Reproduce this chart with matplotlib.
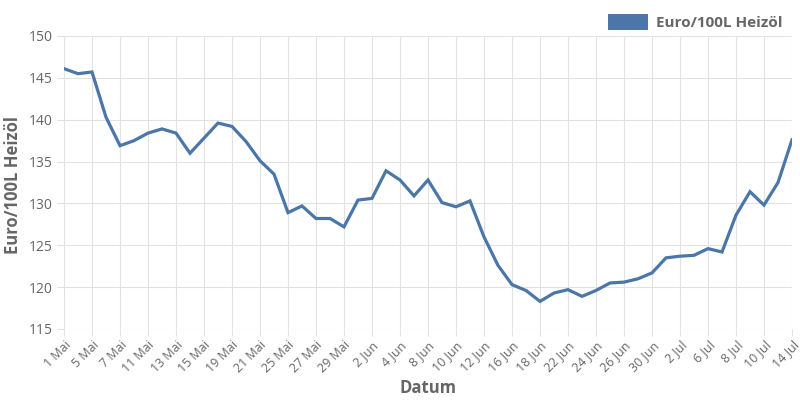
import matplotlib
matplotlib.use('Agg')
import matplotlib.pyplot as plt
from matplotlib.patches import Patch

plt.rcParams['font.family'] = ['Open Sans', 'DejaVu Sans']

# trading days, May - July
dates = ['1 Mai', '4 Mai', '5 Mai', '6 Mai', '7 Mai', '8 Mai', '11 Mai', '12 Mai',
         '13 Mai', '14 Mai', '15 Mai', '18 Mai', '19 Mai', '20 Mai', '21 Mai', '22 Mai',
         '25 Mai', '26 Mai', '27 Mai', '28 Mai', '29 Mai', '1 Jun', '2 Jun', '3 Jun',
         '4 Jun', '5 Jun', '8 Jun', '9 Jun', '10 Jun', '11 Jun', '12 Jun', '15 Jun',
         '16 Jun', '17 Jun', '18 Jun', '19 Jun', '22 Jun', '23 Jun', '24 Jun', '25 Jun',
         '26 Jun', '29 Jun', '30 Jun', '1 Jul', '2 Jul', '3 Jul', '6 Jul', '7 Jul',
         '8 Jul', '9 Jul', '10 Jul', '13 Jul', '14 Jul']
price = [146.1, 145.5, 145.7, 140.3, 136.9, 137.5, 138.4, 138.9,
         138.4, 136.0, 137.8, 139.6, 139.2, 137.4, 135.1, 133.5,
         128.9, 129.7, 128.2, 128.2, 127.2, 130.4, 130.6, 133.9,
         132.8, 130.9, 132.8, 130.1, 129.6, 130.3, 126.0, 122.6,
         120.3, 119.6, 118.3, 119.3, 119.7, 118.9, 119.6, 120.5,
         120.6, 121.0, 121.7, 123.5, 123.7, 123.8, 124.6, 124.2,
         128.6, 131.4, 129.8, 132.5, 137.6]
yticks = [115, 120, 125, 130, 135, 140, 145, 150]

lineColor = '#4a76a8'
textColor = '#666666'
gridColor = '#e2e2e2'

fig = plt.figure(figsize=(8, 4), dpi=100)
ax = fig.add_axes([0.08, 0.1775, 0.91, 0.7325])

x = list(range(len(dates)))
ax.plot(x, price, color=lineColor, linewidth=2.3, solid_joinstyle='miter')

ax.set_xlim(0, len(dates) - 1)
ax.set_ylim(115, 150)
ax.set_yticks(yticks)
ax.set_xticks(x[::2])
ax.set_xticklabels(dates[::2], rotation=45, ha='right', rotation_mode='anchor')

ax.grid(True, color=gridColor, linewidth=0.8)
ax.set_axisbelow(True)
for s in ax.spines.values():
    s.set_visible(False)
ax.tick_params(axis='both', colors=gridColor, length=5, width=0.8, labelcolor=textColor)
ax.tick_params(axis='x', labelsize=9, pad=2)
ax.tick_params(axis='y', labelsize=10, pad=3)

ax.set_xlabel('Datum', fontsize=12, fontweight='bold', color=textColor)
ax.xaxis.set_label_coords(0.5, -0.172)
ax.set_ylabel('Euro/100L Heizöl', fontsize=12, fontweight='bold', color=textColor)
ax.yaxis.set_label_coords(-0.058, 0.49)

handle = Patch(facecolor=lineColor, edgecolor='none')
fig.legend([handle], ['Euro/100L Heizöl'], loc='upper right', bbox_to_anchor=(0.995, 1.0),
           frameon=False, handlelength=2.6, handleheight=1.3, handletextpad=0.5,
           prop={'weight': 'bold', 'size': 11}, labelcolor=textColor)

plt.savefig('out.png', dpi=100)
